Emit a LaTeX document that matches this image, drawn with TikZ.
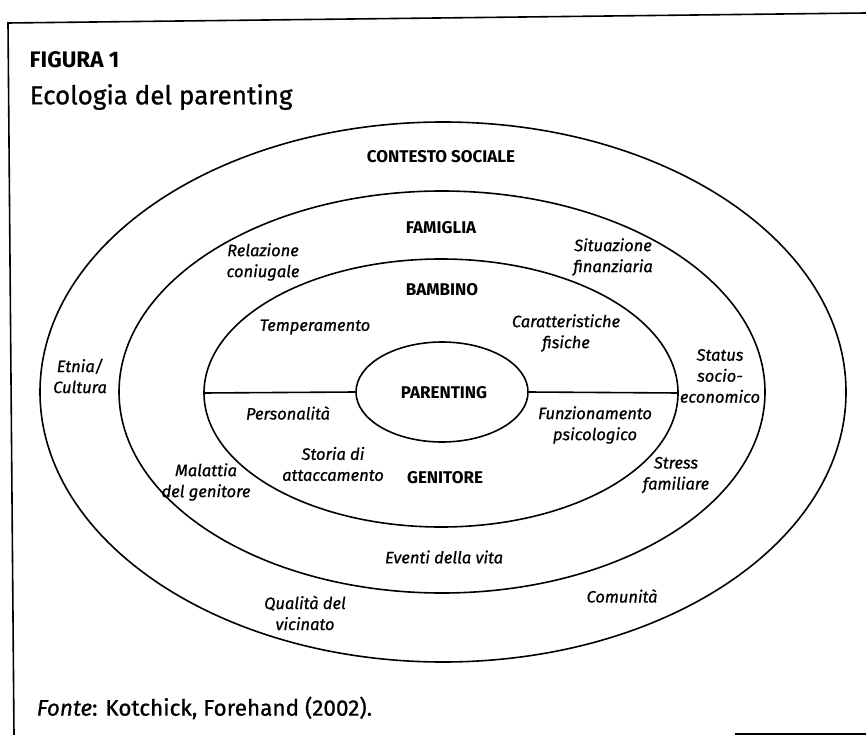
\documentclass[tikz,border=0pt]{standalone}
\usepackage{fontspec}
\setmainfont{Fira Sans}
\newfontfamily\labelfont[FakeBold=0.8]{Fira Sans}
\usetikzlibrary{shapes.geometric}

\begin{document}
\begin{tikzpicture}[x=1pt, y=-1pt, thick,
                    ring node/.style={ellipse,draw,line width=1.6pt,inner sep=0pt},
                    cap node/.style={font=\fontsize{17}{20}\selectfont\bfseries},
                    item node/.style={align=center,font=\labelfont\fontsize{16.5}{21}\selectfont\itshape}]

  \useasboundingbox (0,0) rectangle (866,735);

  % frame
  \draw[line width=1.6pt] (866,13) -- (8,23) -- (14,735);
  \draw[line width=1.6pt] (735,734) -- (866,734);

  \node[anchor=west,font=\fontsize{22.5}{26}\selectfont\bfseries] (figura) at (26,60) {FIGURA 1};
  \node[anchor=west,font=\labelfont\fontsize{26}{30}\selectfont] (titolo) at (26,97) {Ecologia del parenting};

  % rings
  \node[ring node,minimum width=806,minimum height=540] (sociale) at (443,392) {};
  \node[ring node,minimum width=646,minimum height=402] (famiglia) at (442,392) {};
  \node[ring node,minimum width=474,minimum height=268] (bambino) at (441,393) {};
  \node[ring node,minimum width=172,minimum height=100] (parenting) at (442,392) {};

  \path[line width=1.6pt]
     (bambino.west) edge (parenting.west)
     (parenting.east) edge (bambino.east);

  % ring titles
  \node[cap node] (t1) at (441,157) {CONTESTO SOCIALE};
  \node[cap node] (t2) at (441,228) {FAMIGLIA};
  \node[cap node] (t3) at (442,290) {BAMBINO};
  \node[cap node] (t4) at (444,393) {PARENTING};
  \node[cap node] (t5) at (445,478) {GENITORE};

  % contesto sociale
  \node[item node] (etnia) at (80,376) {Etnia/\\Cultura};
  \node[item node] (status) at (720,376) {Status\\socio-\\economico};
  \node[item node] (vicinato) at (305,613) {Qualità del\\vicinato};
  \node[item node] (comunita) at (622,596) {Comunità};

  % famiglia
  \node[item node] (coniugale) at (263,262) {Relazione\\coniugale};
  \node[item node] (finanza) at (613,257) {Situazione\\finanziaria};
  \node[item node] (malattia) at (206,482) {Malattia\\del genitore};
  \node[item node] (stress) at (676,475) {Stress\\familiare};
  \node[item node] (eventi) at (444,557) {Eventi della vita};

  % bambino / genitore
  \node[item node] (temper) at (315,327) {Temperamento};
  \node[item node] (fisiche) at (566,333) {Caratteristiche\\fisiche};
  \node[item node] (person) at (288,413) {Personalità};
  \node[item node] (funzion) at (595,425) {Funzionamento\\psicologico};
  \node[item node] (storia) at (333,464) {Storia di\\attaccamento};

  \node[anchor=west,font=\labelfont\fontsize{22.5}{26}\selectfont] (fonte) at (33,708) {\textit{Fonte}: Kotchick, Forehand (2002).};

\end{tikzpicture}
\end{document}
